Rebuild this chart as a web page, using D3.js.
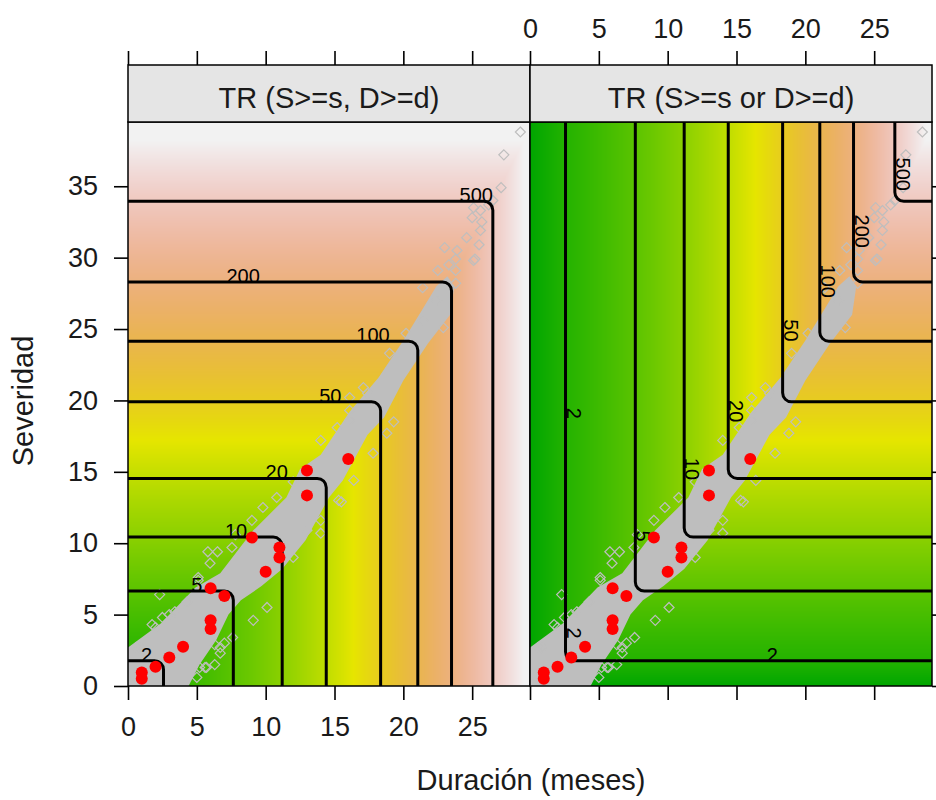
<!DOCTYPE html>
<html>
<head>
<meta charset="utf-8">
<script src="https://cdn.jsdelivr.net/npm/d3@7"></script>
<style>
  body { margin: 0; background: #fff; }
  svg text { font-family: "Liberation Sans", Arial, sans-serif; }
</style>
</head>
<body>
<svg id="chart" width="936" height="800"></svg>
<script>
// return period of each contour
const levels = [2, 5, 10, 20, 50, 100, 200, 500];
// severity and duration where each contour sits
const sevAtLevel = [1.77, 6.65, 10.43, 14.54, 19.9, 24.15, 28.3, 33.95];
const durAtLevel = [2.58, 7.65, 11.2, 14.4, 18.35, 21.05, 23.5, 26.5];

// where the labels sit along their contour
const andLabelDur = [1.34, 5.0, 7.85, 10.8, 14.7, 17.8, 8.36, 25.3];
const orLabelSev = [19.1, 10.5, 15.2, 19.25, 24.9, 28.35, 31.85, 35.84];
const orExtraVert = [{ level: 2, s: 3.7 }];
const orExtraHoriz = [{ level: 2, d: 17.6 }];

const stripTitles = ['TR (S>=s, D>=d)', 'TR (S>=s or D>=d)'];
const xTicks = [0, 5, 10, 15, 20, 25];
const yTicks = [0, 5, 10, 15, 20, 25, 30, 35];

// observed events [duration, severity]
const observed = [
  [1, 0.5], [1, 0.95], [2, 1.35], [3, 2.0], [4, 2.75], [6, 4.0], [6, 4.6],
  [6, 6.85], [7, 6.3], [9, 10.4], [10, 8.0], [11, 9.7], [11, 9.0],
  [13, 15.1], [13, 13.35], [16, 15.9]
];

// dense cloud of simulated events: outline of the solid grey band
const bandUpper = [[0, 0], [0, 2.7], [2.4, 4.4], [4.9, 6.9], [6.7, 7.9], [9.1, 10.9],
  [11.5, 13.2], [12.5, 15.2], [14, 16.2], [16.1, 19.2], [18.2, 21.6], [20.0, 24.2],
  [21.4, 26.4], [22.4, 28.0], [23.2, 28.7]];
const bandLower = [[23.7, 28.0], [23.4, 26.0], [21.8, 24.0], [20.0, 21.4], [18.6, 18.8],
  [17.4, 17.6], [15.6, 14.4], [14.6, 13.2], [12.9, 10.2], [11.2, 8.2], [9.7, 7.0],
  [8.2, 6.0], [7.3, 5.0], [6.4, 3.2], [5.2, 1.5], [4.4, 0]];
// simulated events standing out of the band
const simOutliers = [[0.6, 2.7], [0.87, 2.7], [1.75, 4.3], [2.0, 4.1], [2.3, 6.4], [3.0, 5.0],
  [3.4, 5.2], [4.3, 5.9], [2.5, 4.8], [5.1, 7.4], [5.1, 7.6], [5.8, 9.4], [6.5, 9.4],
  [5.96, 8.6], [7.55, 9.7], [7.8, 10.6], [9.0, 11.6], [9.8, 12.5], [10.8, 13.2], [12.0, 14.3],
  [14.0, 17.2], [15.2, 18.1], [16.1, 18.6],
  [5.0, 0.6], [5.2, 1.3], [5.6, 1.3], [5.7, 1.3], [6.3, 1.5], [6.7, 2.3], [6.3, 2.9],
  [6.7, 2.7], [7.0, 3.0], [7.6, 3.4], [9.1, 4.6], [10.1, 5.5], [12.0, 9.0], [13.0, 10.9],
  [14.0, 10.7], [14.0, 11.6], [15.5, 12.9], [15.3, 13.0], [16.4, 14.4], [17.8, 16.3],
  [18.8, 17.7], [19.3, 18.5],
  [16.1, 20.2], [17.1, 20.9], [17.4, 20.5], [16.1, 19.3], [19.0, 23.3], [20.2, 24.7],
  [21.4, 25.6], [22.9, 25.1], [22.4, 27.0], [23.8, 28.2], [23.8, 29.1], [25.1, 29.8],
  [21.4, 27.9], [22.5, 29.1], [23.3, 29.5], [23.8, 29.9], [25.2, 29.9], [23.0, 30.7],
  [23.9, 30.5], [25.5, 30.9], [24.6, 31.4], [25.6, 31.9], [25.7, 32.5], [25.0, 32.8],
  [25.6, 33.3], [25.1, 33.5], [26.2, 33.7], [26.5, 34.0], [27.1, 34.9], [27.3, 37.2],
  [28.5, 38.8]];

const svg = d3.select('#chart');
const plotTop = 122, plotBottom = 686, stripTop = 65;
const y = d3.scaleLinear().domain([0, 39.5]).range([plotBottom, plotTop]);
const panels = [
  { key: 'and', title: stripTitles[0], x: d3.scaleLinear().domain([0, 29.2]).range([128, 530]) },
  { key: 'or', title: stripTitles[1], x: d3.scaleLinear().domain([0, 29.2]).range([530, 932]) }
];

const logLevels = levels.map(Math.log10);
const logSev = d3.scaleLinear().domain([0, ...sevAtLevel]).range([0, ...logLevels]);
const logDur = d3.scaleLinear().domain([0, ...durAtLevel]).range([0, ...logLevels]);
const frac = d3.scaleLinear().domain([0, 3]).range([0, 1]).clamp(true);

function hsv(h, s, v) {
  const c = v * s, hp = h / 60, xx = c * (1 - Math.abs(hp % 2 - 1)), m = v - c;
  let r = 0, g = 0, b = 0;
  if (hp < 1) { r = c; g = xx; } else if (hp < 2) { r = xx; g = c; } else { g = c; b = xx; }
  return [(r + m) * 255, (g + m) * 255, (b + m) * 255];
}
// R terrain.colors ramp
function terrain(f) {
  if (f <= 0.5) { const t = f / 0.5; return hsv(120 - 60 * t, 1, 0.65 + 0.25 * t); }
  const t = (f - 0.5) / 0.5;
  return hsv(60 - 60 * t, 1 - t, 0.9 + 0.05 * t);
}

function fieldURL(p) {
  const [x0, x1] = p.x.range();
  const w = x1 - x0, h = plotBottom - plotTop;
  const cv = document.createElement('canvas');
  cv.width = w; cv.height = h;
  const ctx = cv.getContext('2d');
  const img = ctx.createImageData(w, h);
  for (let j = 0; j < h; j++) {
    const ls = logSev(y.invert(plotTop + j + 0.5));
    for (let i = 0; i < w; i++) {
      const ld = logDur(p.x.invert(x0 + i + 0.5));
      const lt = p.key === 'and' ? Math.max(ls, ld) : Math.min(ls, ld);
      const c = terrain(frac(lt));
      const k = 4 * (j * w + i);
      img.data[k] = c[0]; img.data[k + 1] = c[1]; img.data[k + 2] = c[2]; img.data[k + 3] = 255;
    }
  }
  ctx.putImageData(img, 0, 0);
  return cv.toDataURL();
}

const diamond = 'M0,-5L5,0L0,5L-5,0Z';
const r = 9;

panels.forEach((p, pi) => {
  const [x0, x1] = p.x.range();
  const g = svg.append('g');

  g.append('clipPath').attr('id', 'clip' + pi)
    .append('rect').attr('x', x0).attr('y', plotTop).attr('width', x1 - x0).attr('height', plotBottom - plotTop);
  const inner = g.append('g').attr('clip-path', `url(#clip${pi})`);

  inner.append('image')
    .attr('x', x0).attr('y', plotTop).attr('width', x1 - x0).attr('height', plotBottom - plotTop)
    .attr('preserveAspectRatio', 'none')
    .attr('href', fieldURL(p));

  // simulated events
  const band = bandUpper.concat(bandLower);
  inner.append('path')
    .attr('d', d3.line().x(d => p.x(d[0])).y(d => y(d[1]))(band) + 'Z')
    .attr('fill', '#bebebe');
  inner.selectAll('.sim').data(simOutliers).join('path')
    .attr('class', 'sim')
    .attr('transform', d => `translate(${p.x(d[0])},${y(d[1])})`)
    .attr('d', diamond)
    .attr('fill', 'none').attr('stroke', '#bebebe').attr('stroke-width', 1.2);

  // contours
  inner.selectAll('.contour').data(levels).join('path')
    .attr('class', 'contour')
    .attr('d', (lv, i) => {
      const cx = p.x(durAtLevel[i]), cy = y(sevAtLevel[i]);
      const path = d3.path();
      if (p.key === 'and') {
        path.moveTo(p.x(0) - 2, cy);
        path.arcTo(cx, cy, cx, y(0), r);
        path.lineTo(cx, y(0) + 2);
      } else {
        path.moveTo(cx, y(39.5) - 2);
        path.arcTo(cx, cy, p.x(29.2), cy, r);
        path.lineTo(p.x(29.2) + 2, cy);
      }
      return path.toString();
    })
    .attr('fill', 'none').attr('stroke', '#000').attr('stroke-width', 3);

  // contour labels
  if (p.key === 'and') {
    inner.selectAll('.lab').data(levels).join('text')
      .attr('class', 'lab')
      .attr('x', (lv, i) => p.x(andLabelDur[i]))
      .attr('y', (lv, i) => y(sevAtLevel[i]) + 1)
      .attr('text-anchor', 'middle').attr('font-size', 20)
      .text(d => d);
  } else {
    const vert = levels.map((lv, i) => ({ level: lv, d: durAtLevel[i], s: orLabelSev[i] }))
      .concat(orExtraVert.map(e => ({ level: e.level, d: durAtLevel[levels.indexOf(e.level)], s: e.s })));
    inner.selectAll('.lab').data(vert).join('text')
      .attr('class', 'lab')
      .attr('transform', d => `translate(${p.x(d.d) + 1},${y(d.s)}) rotate(90)`)
      .attr('text-anchor', 'middle').attr('font-size', 20)
      .text(d => d.level);
    inner.selectAll('.labh').data(orExtraHoriz).join('text')
      .attr('class', 'labh')
      .attr('x', d => p.x(d.d))
      .attr('y', d => y(sevAtLevel[levels.indexOf(d.level)]) + 1)
      .attr('text-anchor', 'middle').attr('font-size', 20)
      .text(d => d.level);
  }

  // observed events
  inner.selectAll('.obs').data(observed).join('circle')
    .attr('class', 'obs')
    .attr('cx', d => p.x(d[0])).attr('cy', d => y(d[1])).attr('r', 6)
    .attr('fill', '#ff0000');

  // frame and strip
  g.append('rect').attr('x', x0).attr('y', plotTop).attr('width', x1 - x0).attr('height', plotBottom - plotTop)
    .attr('fill', 'none').attr('stroke', '#000').attr('stroke-width', 1.5);
  g.append('rect').attr('x', x0).attr('y', stripTop).attr('width', x1 - x0).attr('height', plotTop - stripTop)
    .attr('fill', '#e5e5e5').attr('stroke', '#000').attr('stroke-width', 1.5);
  g.append('text').attr('x', (x0 + x1) / 2).attr('y', 108)
    .attr('text-anchor', 'middle').attr('font-size', 29).attr('fill', '#1a1a1a')
    .text(p.title);

  // axes: labels bottom on the first panel, top on the second
  const bottomAxis = d3.axisBottom(p.x).tickValues(xTicks).tickSize(14).tickSizeOuter(0).tickPadding(17);
  const topAxis = d3.axisTop(p.x).tickValues(xTicks).tickSize(14).tickSizeOuter(0).tickPadding(13);
  if (pi === 0) topAxis.tickFormat(''); else bottomAxis.tickFormat('');
  g.append('g').attr('transform', `translate(0,${plotBottom})`).call(bottomAxis);
  g.append('g').attr('transform', `translate(0,${stripTop})`).call(topAxis);
});

const leftAxis = d3.axisLeft(y).tickValues(yTicks).tickSize(14).tickSizeOuter(0).tickPadding(16);
const rightAxis = d3.axisRight(y).tickValues(yTicks).tickSize(14).tickSizeOuter(0).tickFormat('');
svg.append('g').attr('transform', 'translate(128,0)').call(leftAxis);
svg.append('g').attr('transform', 'translate(932,0)').call(rightAxis);

svg.selectAll('.domain').remove();
svg.selectAll('.tick line').attr('stroke', '#000').attr('stroke-width', 1.6);
svg.selectAll('.tick text').attr('font-size', 27).attr('fill', '#1a1a1a')
  .attr('font-family', '"Liberation Sans", Arial, sans-serif');

svg.append('text').attr('x', 531).attr('y', 790).attr('text-anchor', 'middle')
  .attr('font-size', 29).attr('fill', '#1a1a1a').text('Duración (meses)');
svg.append('text').attr('transform', 'translate(33,401) rotate(-90)').attr('text-anchor', 'middle')
  .attr('font-size', 29).attr('fill', '#1a1a1a').text('Severidad');
</script>
</body>
</html>
